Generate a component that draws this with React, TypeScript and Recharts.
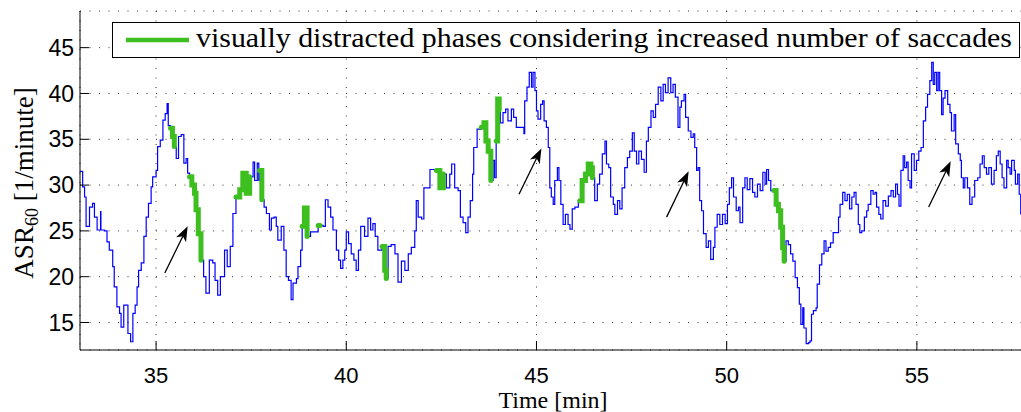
import { LineChart, Line, XAxis, YAxis, CartesianGrid, ReferenceLine } from "recharts";

// time in minutes
const times = [
  33.0, 33.07, 33.12, 33.16, 33.25, 33.33, 33.38, 33.45, 33.54, 33.55, 33.64, 33.71, 33.77, 33.86, 33.9,
  33.97, 34.04, 34.08, 34.15, 34.21, 34.26, 34.33, 34.39, 34.45, 34.5, 34.54, 34.61, 34.68, 34.74, 34.8,
  34.87, 34.91, 35.0, 35.04, 35.11, 35.18, 35.24, 35.29, 35.32, 35.38, 35.43, 35.48, 35.53, 35.59, 35.66,
  35.73, 35.79, 35.83, 35.88, 35.94, 36.01, 36.05, 36.11, 36.18, 36.25, 36.31, 36.4, 36.49, 36.55, 36.62,
  36.69, 36.8, 36.87, 36.95, 37.02, 37.1, 37.2, 37.28, 37.37, 37.46, 37.55, 37.59, 37.66, 37.7, 37.72,
  37.78, 37.84, 37.9, 37.98, 38.03, 38.1, 38.16, 38.2, 38.29, 38.36, 38.42, 38.48, 38.55, 38.6, 38.69,
  38.73, 38.8, 38.84, 38.9, 38.97, 39.06, 39.21, 39.26, 39.31, 39.39, 39.45, 39.52, 39.59, 39.65, 39.74,
  39.8, 39.85, 39.91, 39.96, 40.0, 40.06, 40.13, 40.2, 40.26, 40.32, 40.38, 40.48, 40.57, 40.64, 40.7,
  40.76, 40.83, 40.94, 41.01, 41.05, 41.1, 41.18, 41.28, 41.36, 41.45, 41.54, 41.63, 41.71, 41.8, 41.84,
  41.89, 41.98, 42.04, 42.11, 42.2, 42.28, 42.37, 42.46, 42.55, 42.63, 42.72, 42.77, 42.85, 42.94, 43.0,
  43.07, 43.14, 43.2, 43.26, 43.32, 43.35, 43.44, 43.55, 43.62, 43.67, 43.73, 43.8, 43.86, 43.9, 43.94,
  43.98, 44.02, 44.05, 44.12, 44.19, 44.25, 44.34, 44.4, 44.47, 44.56, 44.67, 44.69, 44.75, 44.81, 44.87,
  44.91, 44.96, 45.0, 45.04, 45.11, 45.16, 45.2, 45.26, 45.31, 45.35, 45.39, 45.44, 45.48, 45.55, 45.59,
  45.64, 45.7, 45.76, 45.83, 45.88, 45.94, 46.01, 46.1, 46.14, 46.2, 46.29, 46.36, 46.43, 46.47, 46.53,
  46.6, 46.66, 46.73, 46.8, 46.84, 46.9, 46.95, 47.02, 47.06, 47.13, 47.19, 47.25, 47.32, 47.39, 47.45,
  47.52, 47.57, 47.63, 47.69, 47.76, 47.83, 47.89, 47.94, 48.01, 48.07, 48.13, 48.2, 48.27, 48.33, 48.39,
  48.46, 48.53, 48.59, 48.65, 48.72, 48.77, 48.81, 48.88, 48.92, 48.99, 49.06, 49.12, 49.16, 49.21, 49.25,
  49.29, 49.34, 49.39, 49.46, 49.52, 49.58, 49.65, 49.69, 49.75, 49.82, 49.89, 49.96, 50.02, 50.07, 50.13,
  50.18, 50.25, 50.31, 50.35, 50.42, 50.48, 50.54, 50.61, 50.68, 50.74, 50.81, 50.88, 50.95, 51.01, 51.05,
  51.1, 51.16, 51.24, 51.3, 51.36, 51.42, 51.47, 51.51, 51.56, 51.62, 51.68, 51.74, 51.8, 51.86, 51.91,
  51.95, 52.0, 52.03, 52.09, 52.15, 52.19, 52.23, 52.28, 52.35, 52.38, 52.44, 52.5, 52.56, 52.61, 52.67,
  52.73, 52.8, 52.89, 52.94, 52.98, 53.05, 53.11, 53.17, 53.23, 53.29, 53.35, 53.4, 53.46, 53.5, 53.55,
  53.62, 53.68, 53.72, 53.79, 53.85, 53.9, 53.94, 54.0, 54.05, 54.11, 54.18, 54.25, 54.32, 54.38, 54.44,
  54.49, 54.53, 54.58, 54.64, 54.68, 54.73, 54.77, 54.82, 54.86, 54.93, 54.99, 55.05, 55.11, 55.17, 55.23,
  55.28, 55.34, 55.39, 55.43, 55.47, 55.52, 55.56, 55.6, 55.65, 55.69, 55.74, 55.81, 55.87, 55.91, 55.98,
  56.02, 56.09, 56.14, 56.17, 56.22, 56.26, 56.33, 56.39, 56.45, 56.52, 56.6, 56.66, 56.72, 56.77, 56.83,
  56.89, 56.96, 57.03, 57.09, 57.14, 57.19, 57.24, 57.29, 57.36, 57.4, 57.45, 57.49, 57.56, 57.59, 57.65,
  57.69, 57.73,
];

// ASR60 [1/minute]
const asr = [
  31.5, 29.8, 28.7, 25.5, 27.6, 28.0, 26.5, 25.1, 27.1, 25.1, 25.0, 23.8, 22.9, 21.1, 18.9,
  16.7, 16.0, 14.5, 16.9, 16.9, 13.8, 12.9, 16.0, 16.9, 18.9, 20.7, 21.5, 24.4, 26.5, 28.0,
  29.8, 30.9, 31.6, 34.2, 34.9, 37.1, 37.8, 38.9, 36.5, 36.2, 35.3, 34.2, 32.9, 35.3, 35.5,
  32.4, 32.9, 31.3, 30.9, 30.0, 29.1, 27.3, 24.7, 21.8, 20.0, 18.2, 21.8, 21.5, 19.6, 18.0,
  20.0, 22.9, 21.1, 23.3, 26.9, 28.7, 29.5, 31.3, 29.1, 30.9, 32.5, 30.5, 32.4, 30.5, 31.6,
  28.4, 27.6, 26.9, 25.1, 26.4, 26.5, 25.5, 24.0, 25.5, 22.9, 20.0, 19.6, 17.5, 19.3, 19.8,
  21.1, 22.9, 25.5, 27.5, 24.4, 24.9, 24.9, 25.6, 25.6, 25.5, 28.4, 27.6, 26.5, 25.1, 22.9,
  21.8, 20.9, 21.8, 22.9, 24.9, 23.6, 22.5, 21.8, 20.7, 22.9, 25.5, 24.4, 26.4, 25.1, 25.8,
  24.4, 22.9, 23.3, 20.7, 19.8, 23.3, 23.5, 22.5, 19.4, 21.7, 20.7, 22.5, 23.2, 25.0, 28.3,
  26.5, 26.3, 29.7, 29.7, 31.7, 31.7, 31.6, 29.7, 31.2, 29.7, 31.2, 32.3, 29.7, 29.4, 26.5,
  25.9, 24.8, 26.5, 28.3, 31.2, 34.1, 36.1, 36.3, 36.8, 34.8, 33.7, 30.5, 32.7, 30.8, 34.8,
  39.4, 38.2, 36.8, 37.9, 38.3, 37.0, 38.3, 37.4, 36.3, 36.3, 35.6, 39.2, 40.7, 42.3, 40.7,
  42.3, 40.3, 38.1, 37.2, 38.8, 39.2, 37.0, 36.3, 34.1, 29.7, 28.7, 27.9, 30.5, 31.9, 30.5,
  27.9, 25.7, 26.8, 25.7, 25.2, 27.4, 27.6, 28.3, 28.3, 30.5, 31.2, 32.3, 31.9, 30.8, 28.3,
  30.1, 31.2, 33.4, 34.8, 32.3, 31.9, 28.7, 27.9, 26.8, 28.3, 27.4, 29.7, 31.9, 33.0, 33.7,
  35.7, 33.7, 32.3, 33.7, 32.8, 31.4, 34.8, 36.3, 38.1, 37.4, 38.8, 40.7, 39.2, 41.0, 40.1,
  41.7, 40.1, 41.0, 39.6, 36.3, 38.5, 39.2, 39.9, 37.4, 35.9, 35.2, 35.6, 34.1, 31.6, 31.9,
  28.3, 27.2, 24.7, 23.2, 23.9, 21.9, 23.2, 25.4, 26.8, 25.7, 26.8, 25.8, 27.9, 29.7, 30.8,
  28.7, 27.2, 27.6, 25.9, 29.7, 30.8, 29.5, 30.7, 29.2, 28.7, 30.1, 29.4, 31.4, 30.1, 31.7,
  30.5, 29.4, 29.4, 27.9, 27.2, 25.4, 23.2, 21.7, 23.9, 23.5, 22.5, 21.7, 19.9, 18.8, 17.0,
  14.8, 16.6, 14.4, 12.7, 12.8, 13.0, 15.9, 16.3, 16.6, 19.2, 21.3, 22.5, 23.9, 22.8, 23.2,
  23.7, 24.8, 24.8, 26.5, 27.9, 29.2, 28.3, 29.0, 27.4, 28.7, 29.2, 27.9, 25.7, 24.8, 25.0,
  26.5, 27.2, 27.9, 29.4, 29.0, 29.2, 27.6, 26.8, 26.3, 28.3, 27.7, 28.8, 29.4, 28.7, 30.1,
  29.0, 27.7, 31.6, 33.2, 31.9, 32.5, 30.5, 29.7, 33.4, 31.6, 32.7, 33.7, 34.1, 37.0, 38.5,
  39.9, 41.4, 43.4, 41.0, 42.3, 40.3, 42.3, 40.3, 37.7, 39.5, 40.3, 38.8, 37.9, 35.9, 37.7,
  34.5, 33.4, 32.7, 30.8, 29.7, 30.8, 29.7, 27.9, 28.7, 30.5, 30.8, 32.3, 33.2, 31.9, 31.2,
  31.9, 30.1, 31.6, 33.2, 33.7, 32.3, 30.8, 29.7, 32.7, 31.9, 31.2, 32.7, 31.6, 30.1, 31.2,
  29.0, 26.8,
];

// visually distracted phases [start, end] in minutes
const greenPhases = [
  [35.36, 35.49], [35.86, 36.19], [37.09, 37.47], [37.71, 37.79], [38.83, 38.98], [39.25, 39.32],
  [40.93, 41.06], [42.36, 42.56], [43.54, 43.81], [43.93, 44.03], [46.13, 46.48], [51.23, 51.52],
];

// arrows: tail -> tip, in (min, ASR) units
const arrowTails = [{ t: 35.23, v: 20.4 }, { t: 44.54, v: 29.0 }, { t: 48.42, v: 26.5 }, { t: 55.31, v: 27.6 }];
const arrowTips = [{ t: 35.83, v: 25.5 }, { t: 45.13, v: 34.0 }, { t: 49.0, v: 31.5 }, { t: 55.89, v: 32.6 }];

const xTicks = [35, 40, 45, 50, 55];
const yTicks = [15, 20, 25, 30, 35, 40, 45];
const legendLabel = "visually distracted phases considering increased number of saccades";

const data = times.map((t, i) => ({
  t,
  asr: asr[i],
  green: greenPhases.some(([a, b]) => t >= a && t <= b) ? asr[i] : null,
}));

const serif = "'Liberation Serif', 'DejaVu Serif', serif";
const sans = "'Liberation Sans', Arial, sans-serif";

function Arrow(props: any) {
  const { x1, y1, x2, y2 } = props;
  const ang = Math.atan2(y2 - y1, x2 - x1);
  const len = 15;
  const half = 5.5;
  const bx = x2 - len * Math.cos(ang);
  const by = y2 - len * Math.sin(ang);
  const nx = x2 - (len - 4) * Math.cos(ang);
  const ny = y2 - (len - 4) * Math.sin(ang);
  const px = -Math.sin(ang) * half;
  const py = Math.cos(ang) * half;
  return (
    <g>
      <line x1={x1} y1={y1} x2={nx} y2={ny} stroke="#000" strokeWidth={1.3} />
      <polygon
        points={`${x2},${y2} ${bx + px},${by + py} ${nx},${ny} ${bx - px},${by - py}`}
        fill="#000"
      />
    </g>
  );
}

const noTick = () => <g />;

export default function App() {
  return (
    <div
      style={{
        position: "absolute",
        left: 0,
        top: 0,
        width: 1021,
        height: 412,
        overflow: "hidden",
        background: "#fff",
      }}
    >
      <LineChart width={1045} height={412} data={data} margin={{ top: 11, right: 14, left: 0, bottom: 0 }}>
        <CartesianGrid stroke="#333" strokeDasharray="1 8.5" strokeWidth={1} />
        <XAxis
          dataKey="t"
          type="number"
          domain={[33, 58]}
          ticks={xTicks}
          allowDataOverflow
          height={62}
          stroke="#000"
          tickSize={-9}
          tickMargin={26}
          tick={{ fill: "#000", fontSize: 22, fontFamily: sans }}
          label={{
            content: () => (
              <text x={553} y={408} textAnchor="middle" fontFamily={serif} fontSize={24} fill="#000">
                Time [min]
              </text>
            ),
          }}
        />
        <XAxis
          xAxisId="top"
          orientation="top"
          dataKey="t"
          type="number"
          domain={[33, 58]}
          ticks={xTicks}
          allowDataOverflow
          height={0}
          stroke="#000"
          tickSize={-9}
          tick={noTick}
        />
        <YAxis
          type="number"
          domain={[12, 49]}
          ticks={yTicks}
          allowDataOverflow
          width={80}
          stroke="#000"
          tickSize={-9}
          tickMargin={15}
          tick={{ fill: "#000", fontSize: 23, fontFamily: sans }}
          label={{
            content: () => (
              <text
                transform="translate(33,183) rotate(-90)"
                textAnchor="middle"
                fontFamily={serif}
                fontSize={27}
                fill="#000"
              >
                <tspan>ASR</tspan>
                <tspan fontSize={18} dy={5}>60</tspan>
                <tspan dy={-5}> [1/minute]</tspan>
              </text>
            ),
          }}
        />
        <Line
          dataKey="asr"
          type="stepAfter"
          stroke="#0000ff"
          strokeWidth={1.2}
          dot={false}
          isAnimationActive={false}
        />
        <Line
          dataKey="green"
          type="stepAfter"
          stroke="#3dbf1f"
          strokeWidth={5}
          strokeLinecap="round"
          dot={false}
          connectNulls={false}
          isAnimationActive={false}
        />
        {arrowTails.map((a, i) => (
          <ReferenceLine
            key={i}
            segment={[{ x: a.t, y: a.v }, { x: arrowTips[i].t, y: arrowTips[i].v }]}
            ifOverflow="visible"
            shape={Arrow}
          />
        ))}
      </LineChart>
      <div
        style={{
          position: "absolute",
          left: 112,
          top: 22,
          width: 906,
          height: 34,
          border: "1.3px solid #000",
          background: "#fff",
        }}
      >
        <svg width={906} height={34}>
          <line x1={13} y1={17} x2={76} y2={17} stroke="#3dbf1f" strokeWidth={4.5} />
          <text
            x={83}
            y={24}
            fontFamily={serif}
            fontSize={28}
            textLength={816}
            lengthAdjust="spacingAndGlyphs"
            fill="#000"
          >
            {legendLabel}
          </text>
        </svg>
      </div>
    </div>
  );
}
